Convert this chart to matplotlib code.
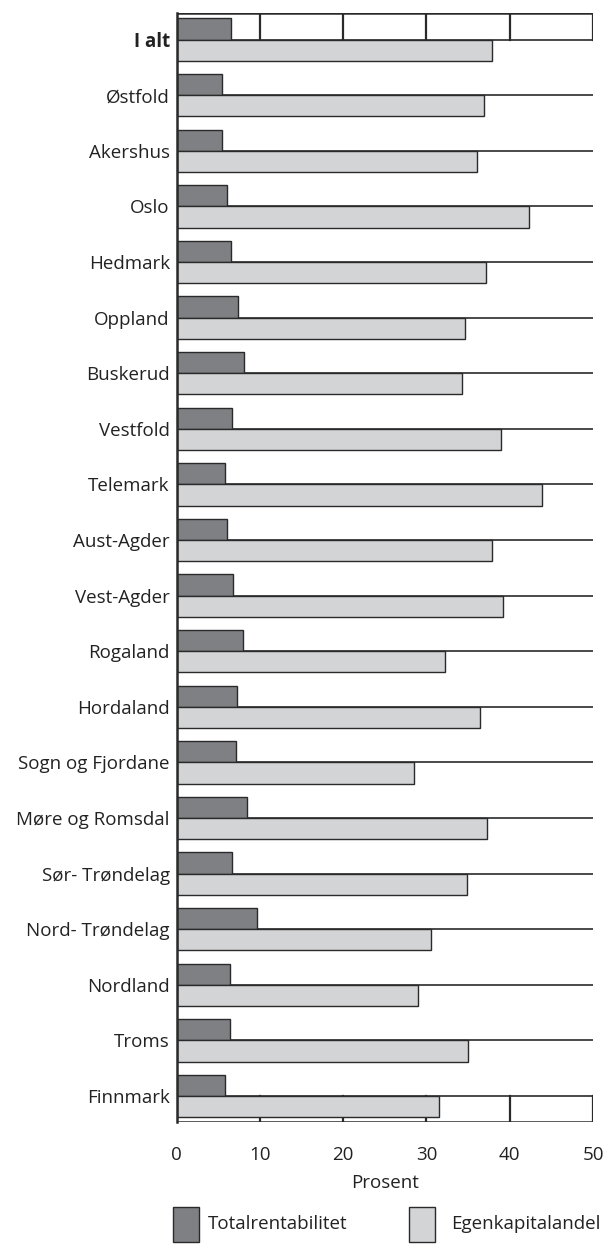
import matplotlib
matplotlib.use("Agg")
import matplotlib.pyplot as plt
from matplotlib.patches import Rectangle
import numpy as np

plt.rcParams['font.family'] = ['Open Sans', 'DejaVu Sans']

# data
fylker = ["I alt", "Østfold", "Akershus", "Oslo", "Hedmark", "Oppland", "Buskerud",
          "Vestfold", "Telemark", "Aust-Agder", "Vest-Agder", "Rogaland", "Hordaland",
          "Sogn og Fjordane", "Møre og Romsdal", "Sør- Trøndelag", "Nord- Trøndelag",
          "Nordland", "Troms", "Finnmark"]
totalrentabilitet = [6.5, 5.4, 5.4, 6.0, 6.5, 7.4, 8.1, 6.6, 5.8, 6.0,
                     6.8, 8.0, 7.2, 7.1, 8.4, 6.7, 9.6, 6.4, 6.4, 5.8]
egenkapitalandel = [37.9, 36.9, 36.1, 42.3, 37.1, 34.6, 34.3, 39.0, 43.9, 37.9,
                    39.2, 32.2, 36.4, 28.5, 37.3, 34.9, 30.5, 29.0, 35.0, 31.5]
x_ticks = [0, 10, 20, 30, 40, 50]

dark_col = '#7f8084'
light_col = '#d3d4d6'
edge_col = '#2a2a2a'
fs = 13.5

fig = plt.figure(figsize=(6.07, 12.44), dpi=100)
ax = fig.add_axes([176.7 / 607, 1 - 1122 / 1244, (593 - 176.7) / 607, (1122 - 13) / 1244])

y = np.arange(len(fylker))
h = 0.38
y_top = -0.478
y_bot = len(fylker) - 1 + 0.468

# horizontal line through every row
for yi in y:
    ax.plot([0, 50], [yi, yi], color=edge_col, lw=1.2, zorder=1)

# box lines in the first and last row only
for xv in x_ticks[1:]:
    ax.plot([xv, xv], [y_top, 0], color=edge_col, lw=1.6, zorder=1)
    ax.plot([xv, xv], [y[-1], y_bot], color=edge_col, lw=1.6, zorder=1)
ax.plot([0, 50], [y_top, y_top], color=edge_col, lw=1.8, zorder=1)
ax.plot([0, 50], [y_bot, y_bot], color=edge_col, lw=1.8, zorder=3)

ax.barh(y - h / 2, totalrentabilitet, height=h, color=dark_col, edgecolor=edge_col,
        lw=1.0, zorder=2)
ax.barh(y + h / 2, egenkapitalandel, height=h, color=light_col, edgecolor=edge_col,
        lw=1.0, zorder=2)

ax.set_xlim(0, 50)
ax.set_ylim(y_bot, y_top)
for s in ['top', 'right', 'bottom']:
    ax.spines[s].set_visible(False)
ax.spines['left'].set_linewidth(1.8)
ax.spines['left'].set_color(edge_col)
ax.spines['left'].set_zorder(4)

ax.set_yticks(y)
ax.set_yticklabels(fylker, fontsize=fs, color='#222222')
ax.get_yticklabels()[0].set_fontweight('bold')
ax.tick_params(axis='y', length=0, pad=5)
ax.set_xticks(x_ticks)
ax.set_xticklabels([str(v) for v in x_ticks], fontsize=fs, color='#222222')
ax.tick_params(axis='x', length=0, pad=17)

# axis title and legend placed in figure pixels
W, H = 607, 1244
def fx(px):
    return px / W
def fy(py):
    return 1 - py / H

fig.text(fx(384.8), fy(1183), "Prosent", fontsize=fs, ha='center', va='center', color='#222222')

fig.add_artist(Rectangle((fx(173), fy(1242)), fx(199) - fx(173), fy(1207) - fy(1242),
                         transform=fig.transFigure, facecolor=dark_col, edgecolor=edge_col, lw=1.0))
fig.text(fx(208), fy(1224), "Totalrentabilitet", fontsize=fs, va='center', ha='left', color='#222222')
fig.add_artist(Rectangle((fx(409), fy(1242)), fx(435) - fx(409), fy(1207) - fy(1242),
                         transform=fig.transFigure, facecolor=light_col, edgecolor=edge_col, lw=1.0))
fig.text(fx(451), fy(1224), "Egenkapitalandel", fontsize=fs, va='center', ha='left', color='#222222')

fig.savefig("out.png", dpi=100)
